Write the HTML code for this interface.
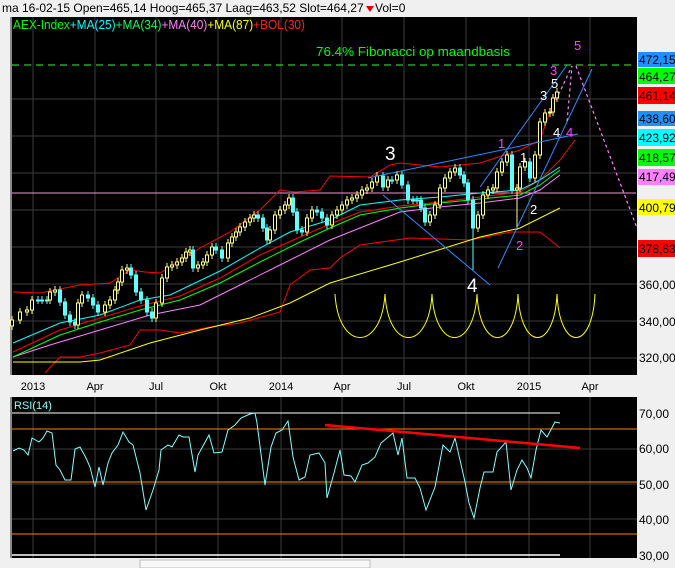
<!DOCTYPE html>
<html><head><meta charset="utf-8"><style>
html,body{margin:0;padding:0;background:#f0f0f0;width:675px;height:568px;overflow:hidden;font-family:"Liberation Sans",sans-serif}
svg{position:absolute;left:0;top:0}
</style></head><body>
<svg id="s" width="675" height="568" xmlns="http://www.w3.org/2000/svg" font-family="Liberation Sans, sans-serif">
<rect x="0" y="0" width="675" height="568" fill="#f0f0f0"/>
<text x="2" y="12" font-size="12" fill="#000">ma 16-02-15  Open=465,14  Hoog=465,37  Laag=463,52  Slot=464,27</text>
<polygon points="366,6 374,6 370,12" fill="#e00000"/>
<text x="375" y="12" font-size="12" fill="#000">Vol=0</text>
<rect x="10" y="17" width="627" height="358" fill="#000"/>
<rect x="10" y="397" width="627" height="161" fill="#000"/>
<line x1="11" y1="17" x2="11" y2="375" stroke="#888" stroke-width="2"/>
<line x1="11" y1="397" x2="11" y2="558" stroke="#888" stroke-width="2"/>
<g id="grid" stroke="#3c3c3c" stroke-width="1"></g>
<text x="13" y="29" font-size="12.5" textLength="292" lengthAdjust="spacingAndGlyphs"><tspan fill="#00ff00">AEX-Index</tspan><tspan fill="#00ffff">+MA(25)</tspan><tspan fill="#00ff60">+MA(34)</tspan><tspan fill="#ff80ff">+MA(40)</tspan><tspan fill="#ffff00">+MA(87)</tspan><tspan fill="#ff2020">+BOL(30)</tspan></text>
<text x="316" y="56" font-size="13" fill="#00ff00" textLength="194" lengthAdjust="spacingAndGlyphs">76.4% Fibonacci op maandbasis</text>
<line x1="12" y1="65" x2="634" y2="65" stroke="#30ff30" stroke-dasharray="7,5"/>
<line x1="12" y1="193" x2="636" y2="193" stroke="#ff90d0"/>
<g id="main"></g>
<g id="rsi"></g>
<g font-size="11" fill="#000" text-anchor="middle">
<text x="33" y="390">2013</text><text x="95" y="390">Apr</text><text x="156" y="390">Jul</text><text x="218" y="390">Okt</text><text x="281" y="390">2014</text><text x="342" y="390">Apr</text><text x="404" y="390">Jul</text><text x="466" y="390">Okt</text><text x="529" y="390">2015</text><text x="590" y="390">Apr</text>
</g>
<g font-size="12" fill="#000">
<rect x="638" y="52" width="37" height="15" fill="#1e90ff"/><text x="639" y="64">472,15</text>
<rect x="638" y="68" width="37" height="16" fill="#00ff00"/><text x="639" y="81">464,27</text>
<rect x="638" y="87" width="37" height="17" fill="#ff0000"/><text x="639" y="100">461,149</text>
<rect x="638" y="111" width="37" height="15" fill="#1e90ff"/><text x="639" y="123">438,60</text>
<rect x="638" y="129" width="37" height="17" fill="#00ffff"/><text x="639" y="142">423,922</text>
<rect x="638" y="149" width="37" height="17" fill="#00ff00"/><text x="639" y="162">418,57</text>
<rect x="638" y="169" width="37" height="16" fill="#ff80ff"/><text x="639" y="181">417,495</text>
<rect x="638" y="199" width="37" height="16" fill="#ffff00"/><text x="639" y="212">400,792</text>
<rect x="638" y="240" width="37" height="17" fill="#ff0000"/><text x="639" y="253">378,838</text>
<text x="639" y="289">360,00</text><text x="639" y="326">340,00</text><text x="639" y="362">320,00</text>
<text x="639" y="418">70,00</text><text x="639" y="453">60,00</text><text x="639" y="489">50,00</text><text x="639" y="524">40,00</text><text x="639" y="560">30,00</text>
</g>
<text x="14" y="409" font-size="11" fill="#80ffff">RSI(14)</text>
<rect x="140" y="560" width="230" height="8" fill="#f8f8f8" stroke="#bbb"/>
</svg>
<script>
const NS="http://www.w3.org/2000/svg";
function el(p,t,a){const e=document.createElementNS(NS,t);for(const k in a)e.setAttribute(k,a[k]);p.appendChild(e);return e;}
const g=document.getElementById('grid');
[33,95,156,218,281,342,404,466,529,590].forEach(x=>{el(g,'line',{x1:x,y1:17,x2:x,y2:375});el(g,'line',{x1:x,y1:397,x2:x,y2:558});});
[99,136,173,210,247,284,321,358].forEach(y=>el(g,'line',{x1:12,y1:y,x2:637,y2:y}));
[449,484,519].forEach(y=>el(g,'line',{x1:12,y1:y,x2:637,y2:y}));
const m=document.getElementById('main');
function pl(par,pts,c,w,extra){const a={points:pts.map(p=>p.join(',')).join(' '),fill:'none',stroke:c,'stroke-width':w||1};Object.assign(a,extra||{});return el(par,'polyline',a);}
pl(m,[[45,373],[60,357],[80,357],[100,353],[130,345],[140,330],[160,330],[180,333],[210,327],[240,323],[280,312],[290,285],[310,270],[330,268],[340,258],[360,245],[410,238],[470,240],[510,232],[540,232],[560,248]],'#ff0000');
pl(m,[[13,292],[40,293],[80,285],[110,283],[130,270],[145,272],[160,273],[200,248],[230,232],[260,210],[280,190],[295,192],[320,190],[330,176],[370,177],[390,165],[400,163],[440,167],[480,163],[520,150],[540,140],[553,103]],'#ff0000');
pl(m,[[13,362],[80,362],[100,360],[150,343],[200,330],[250,318],[290,303],[330,283],[400,262],[480,237],[520,228],[560,208]],'#ffff00');
pl(m,[[13,357],[50,345],[100,330],[150,315],[200,305],[240,285],[280,265],[330,240],[360,228],[400,212],[440,207],[480,203],[520,198],[540,190],[560,175]],'#ff80ff');
pl(m,[[13,357],[60,335],[100,322],[140,310],[180,300],[220,283],[260,262],[300,242],[330,228],[360,215],[400,208],[440,203],[480,199],[520,195],[540,185],[560,170]],'#00ff00');
pl(m,[[13,352],[60,330],[100,318],[140,306],[180,296],[220,278],[260,255],[300,237],[330,224],[360,212],[400,206],[440,202],[480,197],[520,192],[540,180],[560,160],[575,140]],'#ff0000');
pl(m,[[13,343],[60,323],[100,315],[140,300],[170,295],[220,271],[260,248],[290,232],[330,220],[360,205],[400,200],[440,197],[480,193],[520,190],[540,180],[560,167]],'#00ffff');
const P=[[12,320],[20,312],[27,310],[32,300],[38,300],[42,300],[47,300],[50,292],[55,290],[60,302],[65,315],[70,322],[75,325],[78,303],[82,295],[88,298],[93,305],[98,312],[105,305],[110,300],[115,290],[118,282],[122,270],[127,268],[131,275],[136,292],[141,300],[147,312],[152,318],[156,303],[162,278],[167,267],[172,265],[177,262],[182,258],[186,252],[190,250],[193,268],[198,265],[203,262],[207,255],[212,247],[216,250],[222,258],[228,243],[232,237],[236,232],[240,227],[245,222],[250,218],[254,215],[258,218],[263,228],[267,240],[270,230],[275,215],[280,210],[285,205],[289,198],[293,212],[297,230],[302,232],[307,218],[312,210],[317,212],[322,218],[327,225],[332,215],[337,210],[342,205],[347,200],[352,198],[357,195],[362,190],[367,188],[372,182],[377,176],[383,187],[388,180],[392,180],[397,175],[402,185],[408,200],[413,200],[417,200],[421,208],[425,222],[430,215],[435,205],[440,188],[445,178],[450,172],[455,168],[460,175],[464,183],[468,200],[473,228],[478,215],[483,195],[488,190],[493,188],[497,172],[502,162],[507,155],[512,190],[517,188],[520,167],[525,162],[530,178],[535,155],[540,122],[545,113],[550,112],[553,98],[557,92]];
for(let i=0;i<P.length;i++){const [x,c]=P[i];const o=i?P[i-1][1]:c+6;const up=c<o;const top=Math.min(o,c),bot=Math.max(o,c);const col=up?'#ffff80':'#60ffff';
let lo=bot+4,hi=top-4; if(x==473)lo=270; if(x==517)lo=230;
el(m,'line',{x1:x,y1:hi,x2:x,y2:lo,stroke:col});
el(m,'rect',{x:x-1.5,y:top,width:3,height:Math.max(1,bot-top),fill:up?'#000':col,stroke:col,'stroke-width':1});}
[[368,178,578,134],[383,195,490,285],[480,187,567,65],[498,268,592,69]].forEach(l=>el(m,'line',{x1:l[0],y1:l[1],x2:l[2],y2:l[3],stroke:'#2a8cff'}));
pl(m,[[556,100],[572,66],[567,122]],'#ff80ff',1.2,{'stroke-dasharray':'3,3'});
pl(m,[[576,66],[637,228]],'#ff80ff',1.2,{'stroke-dasharray':'3,3'});
const cx=[335,385,432,477,518,557,595];
for(let i=0;i<cx.length-1;i++){const a=cx[i],b=cx[i+1],w=b-a;el(m,'path',{d:`M${a},294 C${a+w*0.07},352 ${b-w*0.07},352 ${b},294`,fill:'none',stroke:'#ffff00'});}
const L=[[385,160,'3','#fff',19],[467,292,'4','#fff',19],[498,148,'1','#ff40ff',13],[516,250,'2','#ff40ff',13],[550,75,'3','#ff40ff',13],[566,137,'4','#ff40ff',13],[574,50,'5','#ff40ff',13],[520,162,'1','#fff',13],[530,214,'2','#fff',13],[540,100,'3','#fff',13],[551,88,'5','#fff',13],[553,137,'4','#fff',13]];
L.forEach(t=>{const e=el(m,'text',{x:t[0],y:t[1],fill:t[3],'font-size':t[4]});e.textContent=t[2];});
const r=document.getElementById('rsi');
el(r,'line',{x1:12,y1:413,x2:560,y2:413,stroke:'#fff'});
el(r,'line',{x1:12,y1:555,x2:560,y2:555,stroke:'#fff','stroke-width':1.5});
[429,482,534].forEach(y=>el(r,'line',{x1:12,y1:y,x2:637,y2:y,stroke:'#ff8000'}));
pl(r,[[13,451],[19,448],[24,450],[28,455],[32,438],[39,442],[43,438],[47,431],[52,433],[56,465],[60,470],[65,480],[71,480],[75,449],[80,447],[86,458],[90,467],[95,487],[99,467],[103,485],[108,463],[112,453],[118,445],[123,432],[129,442],[133,445],[140,473],[146,510],[153,490],[159,470],[161,450],[168,445],[172,447],[179,435],[183,437],[189,437],[195,472],[198,455],[209,435],[214,453],[222,452],[228,430],[235,425],[241,418],[250,414],[255,413],[257,423],[265,485],[271,447],[276,433],[282,430],[288,421],[293,457],[299,480],[305,477],[310,455],[319,453],[325,463],[327,498],[334,473],[340,450],[344,475],[351,476],[355,482],[362,465],[368,463],[375,457],[381,443],[387,438],[393,433],[398,455],[402,438],[407,478],[415,478],[420,488],[426,510],[435,487],[443,445],[450,452],[455,438],[465,482],[469,503],[474,518],[480,488],[484,472],[493,472],[497,452],[506,442],[511,490],[517,470],[522,460],[527,468],[531,478],[536,450],[541,430],[547,437],[555,422],[560,423]],'#80ffff');
el(r,'line',{x1:325,y1:425,x2:580,y2:448,stroke:'#ff0000','stroke-width':2.5});
</script>
</body></html>
